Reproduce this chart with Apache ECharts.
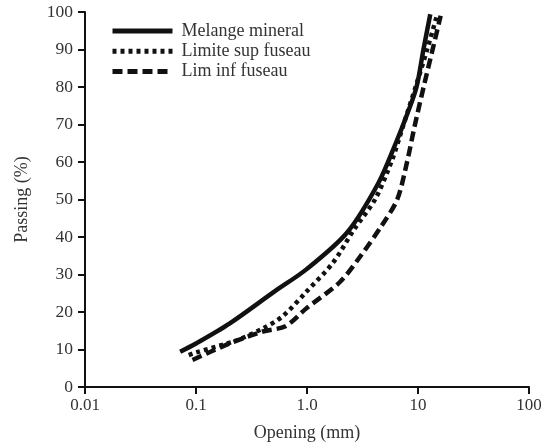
<!DOCTYPE html>
<html>
<head>
<meta charset="utf-8">
<title>Courbe granulometrique</title>
<script src="https://cdn.jsdelivr.net/npm/echarts@6/dist/echarts.min.js"></script>
<style>
  html, body { margin: 0; padding: 0; background: #fff; }
  #chart { width: 545px; height: 447px; }
</style>
</head>
<body>
<div id="chart"></div>
<script>
// ouverture (mm), passant (%)
var melangeMineral = [
  [0.072, 9.4], [0.1, 11.6], [0.2, 16.9], [0.5, 25.3], [1, 31.5], [2.3, 41.2],
  [4.4, 54.4], [6.3, 65], [8, 72.8], [9.7, 80], [11.2, 90], [12.9, 99.4]
];
var limiteSup = [
  [0.086, 8.5], [0.1, 9.2], [0.23, 12.4], [0.4, 15.6], [0.6, 18.8], [0.98, 25.3],
  [1.72, 33.2], [2.65, 42], [4.1, 50], [5.85, 60.6], [7.3, 69.4], [9.7, 80.8],
  [12, 89.7], [14.8, 99]
];
var limInf = [
  [0.093, 7.2], [0.2, 11.6], [0.4, 14.8], [0.64, 16.2], [0.98, 20.9], [1.98, 28],
  [3.05, 35], [4.7, 43], [6.5, 50], [7.9, 59.5], [9.3, 69.4], [11.4, 80.8],
  [13.9, 91.4], [16, 99]
];
var xTickLabels = ['0.01', '0.1', '1.0', '10', '100'];
var seriesNames = ['Melange mineral', 'Limite sup fuseau', 'Lim inf fuseau'];
var dashTypes = ['solid', [4, 4], [10, 5]];

var chart = echarts.init(document.getElementById('chart'));
var font = 'Liberation Serif';
var txt = '#333';

var option = {
  animation: false,
  backgroundColor: '#fff',
  grid: { left: 85, right: 16, top: 12, bottom: 58 },
  legend: {
    left: 105,
    top: 17,
    orient: 'vertical',
    itemWidth: 60,
    itemHeight: 14,
    itemGap: 2.3,
    data: seriesNames.map(function (n, i) {
      return { name: n, lineStyle: { width: 5, type: dashTypes[i], cap: 'butt', color: '#111' } };
    }),
    itemStyle: { opacity: 0 },
    textStyle: { fontFamily: font, fontSize: 18, color: txt, padding: [0, 0, 0, 4] }
  },
  xAxis: {
    type: 'log',
    logBase: 10,
    min: 0.01,
    max: 100,
    name: 'Opening (mm)',
    nameLocation: 'middle',
    nameGap: 37,
    nameTextStyle: { fontFamily: font, fontSize: 18, color: txt },
    axisLine: { lineStyle: { color: '#111', width: 2 } },
    axisTick: { show: true, length: 7, lineStyle: { color: '#111', width: 2 } },
    minorTick: { show: false },
    splitLine: { show: false },
    axisLabel: {
      fontFamily: font, fontSize: 17, color: txt, margin: 10,
      formatter: function (v) {
        var i = Math.round(Math.log10(v)) + 2;
        return xTickLabels[i] || '';
      }
    }
  },
  yAxis: {
    type: 'value',
    min: 0,
    max: 100,
    interval: 10,
    name: 'Passing (%)',
    nameLocation: 'middle',
    nameGap: 54,
    nameTextStyle: { fontFamily: font, fontSize: 18, color: txt },
    axisLine: { show: true, lineStyle: { color: '#111', width: 2 } },
    axisTick: { show: true, length: 7, lineStyle: { color: '#111', width: 2 } },
    splitLine: { show: false },
    axisLabel: { fontFamily: font, fontSize: 17.5, color: txt, margin: 12 }
  },
  series: [
    {
      name: seriesNames[0], type: 'line', data: melangeMineral, symbol: 'none', smooth: 0.3,
      itemStyle: { color: '#111' },
      lineStyle: { color: '#111', width: 4.5, type: dashTypes[0] }
    },
    {
      name: seriesNames[1], type: 'line', data: limiteSup, symbol: 'none', smooth: 0.3,
      itemStyle: { color: '#111' },
      lineStyle: { color: '#111', width: 4.5, type: dashTypes[1], cap: 'butt' }
    },
    {
      name: seriesNames[2], type: 'line', data: limInf, symbol: 'none', smooth: 0.3,
      itemStyle: { color: '#111' },
      lineStyle: { color: '#111', width: 4.5, type: dashTypes[2], cap: 'butt' }
    }
  ]
};
chart.setOption(option);
</script>
</body>
</html>
